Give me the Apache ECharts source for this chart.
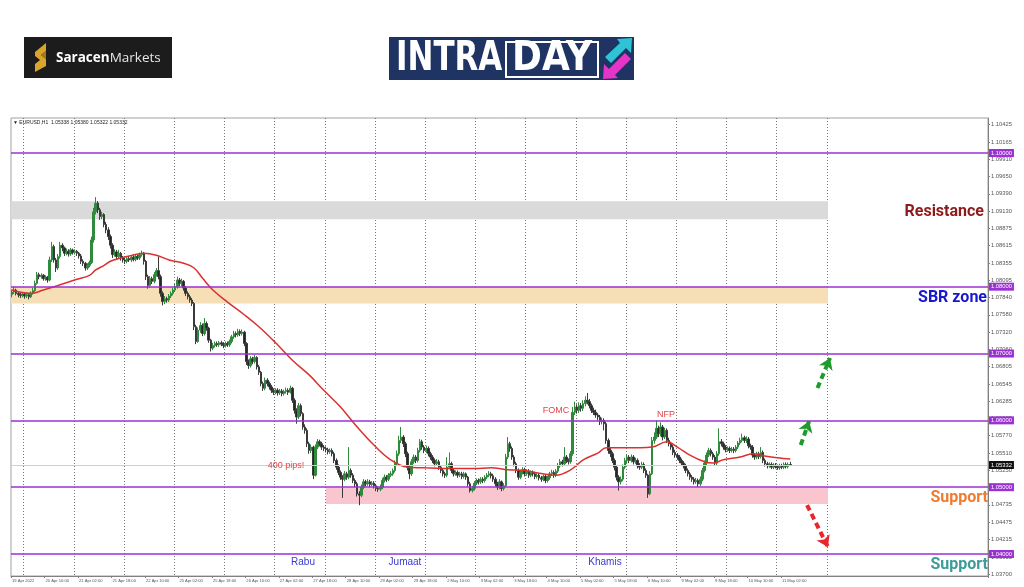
<!DOCTYPE html>
<html><head><meta charset="utf-8">
<script src="https://cdn.jsdelivr.net/npm/echarts@6/dist/echarts.min.js"></script>
<style>html,body{margin:0;padding:0;background:#fff}#c{width:1024px;height:587px}</style>
</head><body><div id="c"></div>
<script>
// ---------- DATA (EURUSD H1, bar 0 = 19 Apr 2022 18:00) ----------
const xLabels = ["19 Apr 2022","20 Apr 10:00","21 Apr 02:00","21 Apr 18:00","22 Apr 10:00","25 Apr 02:00","25 Apr 18:00","26 Apr 10:00","27 Apr 02:00","27 Apr 18:00","28 Apr 10:00","29 Apr 02:00","29 Apr 18:00","2 May 10:00","3 May 02:00","3 May 18:00","4 May 10:00","5 May 02:00","5 May 18:00","6 May 10:00","9 May 02:00","9 May 18:00","10 May 10:00","11 May 02:00"];

const opens = [
1.0788,1.0792,1.0795,1.0790,1.0788,1.0787,1.0789,1.0786,1.0788,1.0785,
1.0790,1.0794,1.0805,1.0818,1.0815,1.0817,1.0812,1.0814,1.0810,1.0840,
1.0860,1.0840,1.0828,1.0845,1.0862,1.0858,1.0850,1.0853,1.0849,1.0855,
1.0851,1.0853,1.0850,1.0846,1.0838,1.0835,1.0828,1.0832,1.0836,1.0870,
1.0912,1.0925,1.0915,1.0905,1.0908,1.0893,1.0885,1.0875,1.0862,1.0848,
1.0852,1.0845,1.0850,1.0843,1.0840,1.0838,1.0842,1.0840,1.0844,1.0841,
1.0845,1.0843,1.0848,1.0850,1.0838,1.0815,1.0802,1.0812,1.0808,1.0818,
1.0824,1.0815,1.0790,1.0778,1.0782,1.0780,1.0786,1.0790,1.0795,1.0800,
1.0810,1.0805,1.0808,1.0798,1.0790,1.0785,1.0780,1.0775,1.0740,1.0718,
1.0735,1.0742,1.0730,1.0745,1.0738,1.0720,1.0708,1.0712,1.0715,1.0713,
1.0716,1.0714,1.0712,1.0715,1.0713,1.0718,1.0725,1.0730,1.0728,1.0733,
1.0730,1.0732,1.0715,1.0688,1.0682,1.0692,1.0688,1.0694,1.0680,1.0672,
1.0655,1.0648,1.0660,1.0655,1.0650,1.0645,1.0642,1.0645,1.0641,1.0644,
1.0640,1.0643,1.0645,1.0642,1.0648,1.0630,1.0615,1.0605,1.0622,1.0610,
1.0590,1.0585,1.0565,1.0555,1.0560,1.0518,1.0560,1.0568,1.0565,1.0560,
1.0558,1.0556,1.0553,1.0555,1.0550,1.0540,1.0530,1.0522,1.0515,1.0512,
1.0520,1.0515,1.0525,1.0518,1.0510,1.0505,1.0490,1.0488,1.0500,1.0508,
1.0505,1.0508,1.0504,1.0506,1.0502,1.0498,1.0497,1.0500,1.0510,1.0515,
1.0512,1.0518,1.0520,1.0525,1.0536,1.0550,1.0570,1.0575,1.0565,1.0550,
1.0530,1.0520,1.0538,1.0545,1.0540,1.0555,1.0568,1.0560,1.0555,1.0558,
1.0550,1.0545,1.0540,1.0535,1.0538,1.0530,1.0525,1.0520,1.0518,1.0530,
1.0535,1.0525,1.0520,1.0522,1.0518,1.0520,1.0516,1.0520,1.0515,1.0505,
1.0495,1.0498,1.0506,1.0510,1.0508,1.0512,1.0510,1.0515,1.0518,1.0520,
1.0517,1.0512,1.0505,1.0500,1.0508,1.0498,1.0502,1.0545,1.0565,1.0558,
1.0545,1.0535,1.0525,1.0515,1.0522,1.0526,1.0520,1.0524,1.0518,1.0522,
1.0520,1.0516,1.0518,1.0514,1.0512,1.0516,1.0510,1.0514,1.0520,1.0522,
1.0518,1.0524,1.0532,1.0538,1.0535,1.0545,1.0540,1.0538,1.0550,1.0612,
1.0620,1.0615,1.0622,1.0618,1.0625,1.0630,1.0628,1.0622,1.0615,1.0612,
1.0608,1.0605,1.0598,1.0600,1.0595,1.0570,1.0555,1.0550,1.0540,1.0530,
1.0515,1.0508,1.0512,1.0530,1.0540,1.0545,1.0540,1.0545,1.0538,1.0540,
1.0532,1.0530,1.0534,1.0525,1.0518,1.0490,1.0520,1.0570,1.0575,1.0588,
1.0580,1.0590,1.0575,1.0585,1.0570,1.0565,1.0560,1.0552,1.0548,1.0545,
1.0540,1.0536,1.0532,1.0525,1.0520,1.0515,1.0512,1.0508,1.0510,1.0505,
1.0512,1.0525,1.0536,1.0548,1.0555,1.0550,1.0545,1.0536,1.0550,1.0568,
1.0565,1.0560,1.0556,1.0558,1.0555,1.0557,1.0555,1.0560,1.0566,1.0570,
1.0574,1.0570,1.0572,1.0562,1.0560,1.0548,1.0545,1.0550,1.0546,1.0552,
1.0540,1.0535,1.0532,1.0534,1.0530,1.0533,1.0531,1.0529,1.0532,1.0530,
1.0534,1.0531,1.05338];

const closes = [
1.0792,1.0795,1.0790,1.0788,1.0787,1.0789,1.0786,1.0788,1.0785,1.0790,
1.0794,1.0805,1.0818,1.0815,1.0817,1.0812,1.0814,1.0810,1.0840,1.0860,
1.0840,1.0828,1.0845,1.0862,1.0858,1.0850,1.0853,1.0849,1.0855,1.0851,
1.0853,1.0850,1.0846,1.0838,1.0835,1.0828,1.0832,1.0836,1.0870,1.0912,
1.0925,1.0915,1.0905,1.0908,1.0893,1.0885,1.0875,1.0862,1.0848,1.0852,
1.0845,1.0850,1.0843,1.0840,1.0838,1.0842,1.0840,1.0844,1.0841,1.0845,
1.0843,1.0848,1.0850,1.0838,1.0815,1.0802,1.0812,1.0808,1.0818,1.0824,
1.0815,1.0790,1.0778,1.0782,1.0780,1.0786,1.0790,1.0795,1.0800,1.0810,
1.0805,1.0808,1.0798,1.0790,1.0785,1.0780,1.0775,1.0740,1.0718,1.0735,
1.0742,1.0730,1.0745,1.0738,1.0720,1.0708,1.0712,1.0715,1.0713,1.0716,
1.0714,1.0712,1.0715,1.0713,1.0718,1.0725,1.0730,1.0728,1.0733,1.0730,
1.0732,1.0715,1.0688,1.0682,1.0692,1.0688,1.0694,1.0680,1.0672,1.0655,
1.0648,1.0660,1.0655,1.0650,1.0645,1.0642,1.0645,1.0641,1.0644,1.0640,
1.0643,1.0645,1.0642,1.0648,1.0630,1.0615,1.0605,1.0622,1.0610,1.0590,
1.0585,1.0565,1.0555,1.0560,1.0518,1.0560,1.0568,1.0565,1.0560,1.0558,
1.0556,1.0553,1.0555,1.0550,1.0540,1.0530,1.0522,1.0515,1.0512,1.0520,
1.0515,1.0525,1.0518,1.0510,1.0505,1.0490,1.0488,1.0500,1.0508,1.0505,
1.0508,1.0504,1.0506,1.0502,1.0498,1.0497,1.0500,1.0510,1.0515,1.0512,
1.0518,1.0520,1.0525,1.0536,1.0550,1.0570,1.0575,1.0565,1.0550,1.0530,
1.0520,1.0538,1.0545,1.0540,1.0555,1.0568,1.0560,1.0555,1.0558,1.0550,
1.0545,1.0540,1.0535,1.0538,1.0530,1.0525,1.0520,1.0518,1.0530,1.0535,
1.0525,1.0520,1.0522,1.0518,1.0520,1.0516,1.0520,1.0515,1.0505,1.0495,
1.0498,1.0506,1.0510,1.0508,1.0512,1.0510,1.0515,1.0518,1.0520,1.0517,
1.0512,1.0505,1.0500,1.0508,1.0498,1.0502,1.0545,1.0565,1.0558,1.0545,
1.0535,1.0525,1.0515,1.0522,1.0526,1.0520,1.0524,1.0518,1.0522,1.0520,
1.0516,1.0518,1.0514,1.0512,1.0516,1.0510,1.0514,1.0520,1.0522,1.0518,
1.0524,1.0532,1.0538,1.0535,1.0545,1.0540,1.0538,1.0550,1.0612,1.0620,
1.0615,1.0622,1.0618,1.0625,1.0630,1.0628,1.0622,1.0615,1.0612,1.0608,
1.0605,1.0598,1.0600,1.0595,1.0570,1.0555,1.0550,1.0540,1.0530,1.0515,
1.0508,1.0512,1.0530,1.0540,1.0545,1.0540,1.0545,1.0538,1.0540,1.0532,
1.0530,1.0534,1.0525,1.0518,1.0490,1.0520,1.0570,1.0575,1.0588,1.0580,
1.0590,1.0575,1.0585,1.0570,1.0565,1.0560,1.0552,1.0548,1.0545,1.0540,
1.0536,1.0532,1.0525,1.0520,1.0515,1.0512,1.0508,1.0510,1.0505,1.0512,
1.0525,1.0536,1.0548,1.0555,1.0550,1.0545,1.0536,1.0550,1.0568,1.0565,
1.0560,1.0556,1.0558,1.0555,1.0557,1.0555,1.0560,1.0566,1.0570,1.0574,
1.0570,1.0572,1.0562,1.0560,1.0548,1.0545,1.0550,1.0546,1.0552,1.0540,
1.0535,1.0532,1.0534,1.0530,1.0533,1.0531,1.0529,1.0532,1.0530,1.0534,
1.0531,1.05338,1.05332];

const highs = [
1.0796,1.0800,1.0797,1.0793,1.0791,1.0792,1.0791,1.0791,1.0790,1.0793,
1.0798,1.0809,1.0822,1.0821,1.0820,1.0819,1.0817,1.0816,1.0845,1.0867,
1.0863,1.0843,1.0849,1.0867,1.0865,1.0860,1.0857,1.0856,1.0858,1.0857,
1.0856,1.0855,1.0852,1.0849,1.0841,1.0837,1.0835,1.0839,1.0875,1.0918,
1.0934,1.0928,1.0918,1.0912,1.0910,1.0897,1.0889,1.0878,1.0865,1.0856,
1.0855,1.0855,1.0852,1.0846,1.0843,1.0845,1.0846,1.0847,1.0847,1.0848,
1.0848,1.0851,1.0854,1.0852,1.0840,1.0818,1.0816,1.0815,1.0822,1.0828,
1.0845,1.0818,1.0793,1.0786,1.0785,1.0789,1.0793,1.0798,1.0804,1.0815,
1.0813,1.0812,1.0810,1.0801,1.0793,1.0788,1.0783,1.0777,1.0743,1.0739,
1.0747,1.0745,1.0753,1.0748,1.0740,1.0722,1.0716,1.0718,1.0718,1.0719,
1.0719,1.0717,1.0718,1.0718,1.0721,1.0728,1.0734,1.0733,1.0737,1.0736,
1.0736,1.0734,1.0717,1.0691,1.0696,1.0695,1.0698,1.0696,1.0683,1.0674,
1.0658,1.0664,1.0663,1.0658,1.0653,1.0648,1.0648,1.0648,1.0647,1.0647,
1.0646,1.0649,1.0648,1.0652,1.0650,1.0633,1.0618,1.0626,1.0625,1.0612,
1.0594,1.0588,1.0568,1.0564,1.0562,1.0564,1.0572,1.0571,1.0568,1.0563,
1.0561,1.0559,1.0558,1.0558,1.0553,1.0543,1.0534,1.0525,1.0518,1.0524,
1.0523,1.0560,1.0528,1.0521,1.0513,1.0508,1.0494,1.0504,1.0512,1.0511,
1.0512,1.0511,1.0509,1.0509,1.0505,1.0501,1.0504,1.0514,1.0519,1.0518,
1.0521,1.0524,1.0528,1.0540,1.0555,1.0577,1.0590,1.0578,1.0568,1.0553,
1.0533,1.0542,1.0549,1.0548,1.0559,1.0572,1.0571,1.0563,1.0562,1.0561,
1.0553,1.0548,1.0543,1.0542,1.0541,1.0533,1.0528,1.0523,1.0545,1.0552,
1.0538,1.0528,1.0525,1.0525,1.0523,1.0523,1.0523,1.0522,1.0517,1.0508,
1.0502,1.0509,1.0513,1.0513,1.0515,1.0515,1.0518,1.0521,1.0524,1.0523,
1.0520,1.0515,1.0508,1.0512,1.0510,1.0506,1.0550,1.0575,1.0568,1.0561,
1.0548,1.0538,1.0528,1.0526,1.0530,1.0529,1.0527,1.0527,1.0525,1.0525,
1.0523,1.0521,1.0521,1.0517,1.0519,1.0519,1.0517,1.0523,1.0526,1.0525,
1.0527,1.0536,1.0542,1.0541,1.0560,1.0548,1.0543,1.0554,1.0620,1.0628,
1.0624,1.0627,1.0626,1.0630,1.0636,1.0641,1.0632,1.0625,1.0619,1.0616,
1.0611,1.0608,1.0604,1.0603,1.0598,1.0573,1.0559,1.0553,1.0543,1.0533,
1.0518,1.0516,1.0534,1.0544,1.0549,1.0548,1.0549,1.0548,1.0544,1.0543,
1.0536,1.0538,1.0537,1.0528,1.0520,1.0524,1.0575,1.0582,1.0600,1.0592,
1.0597,1.0593,1.0589,1.0588,1.0574,1.0568,1.0563,1.0556,1.0551,1.0548,
1.0543,1.0539,1.0535,1.0528,1.0523,1.0518,1.0515,1.0514,1.0513,1.0516,
1.0529,1.0540,1.0552,1.0559,1.0558,1.0553,1.0548,1.0554,1.0588,1.0572,
1.0568,1.0563,1.0561,1.0561,1.0560,1.0560,1.0563,1.0569,1.0574,1.0580,
1.0577,1.0576,1.0575,1.0565,1.0563,1.0551,1.0553,1.0553,1.0560,1.0555,
1.0543,1.0538,1.0537,1.0537,1.0536,1.0536,1.0534,1.0535,1.0535,1.0537,
1.0537,1.0537,1.05380];

const lows = [
1.0784,1.0789,1.0787,1.0784,1.0783,1.0784,1.0782,1.0783,1.0781,1.0783,
1.0788,1.0792,1.0803,1.0811,1.0812,1.0809,1.0809,1.0806,1.0808,1.0837,
1.0836,1.0822,1.0825,1.0842,1.0853,1.0846,1.0847,1.0845,1.0846,1.0848,
1.0848,1.0846,1.0842,1.0834,1.0831,1.0824,1.0825,1.0829,1.0834,1.0866,
1.0908,1.0910,1.0900,1.0901,1.0889,1.0880,1.0870,1.0857,1.0843,1.0845,
1.0840,1.0842,1.0839,1.0836,1.0834,1.0835,1.0837,1.0837,1.0838,1.0838,
1.0840,1.0840,1.0845,1.0833,1.0810,1.0797,1.0799,1.0804,1.0805,1.0815,
1.0811,1.0785,1.0772,1.0774,1.0776,1.0777,1.0783,1.0787,1.0792,1.0797,
1.0801,1.0801,1.0794,1.0786,1.0781,1.0776,1.0771,1.0735,1.0714,1.0716,
1.0731,1.0726,1.0727,1.0734,1.0716,1.0703,1.0705,1.0709,1.0710,1.0710,
1.0711,1.0708,1.0709,1.0710,1.0710,1.0715,1.0722,1.0724,1.0725,1.0726,
1.0727,1.0711,1.0683,1.0677,1.0679,1.0684,1.0685,1.0676,1.0668,1.0651,
1.0644,1.0645,1.0651,1.0646,1.0641,1.0638,1.0639,1.0637,1.0638,1.0636,
1.0637,1.0640,1.0638,1.0640,1.0626,1.0610,1.0595,1.0602,1.0606,1.0586,
1.0580,1.0560,1.0550,1.0551,1.0512,1.0516,1.0557,1.0561,1.0556,1.0554,
1.0552,1.0549,1.0550,1.0546,1.0536,1.0526,1.0518,1.0511,1.0484,1.0509,
1.0511,1.0512,1.0514,1.0506,1.0500,1.0486,1.0473,1.0485,1.0497,1.0501,
1.0502,1.0500,1.0501,1.0498,1.0494,1.0493,1.0494,1.0497,1.0507,1.0508,
1.0509,1.0515,1.0517,1.0522,1.0533,1.0547,1.0566,1.0560,1.0545,1.0525,
1.0512,1.0517,1.0535,1.0536,1.0537,1.0552,1.0556,1.0551,1.0551,1.0546,
1.0541,1.0536,1.0531,1.0532,1.0526,1.0521,1.0516,1.0514,1.0515,1.0527,
1.0521,1.0516,1.0517,1.0514,1.0515,1.0512,1.0513,1.0511,1.0501,1.0492,
1.0492,1.0495,1.0503,1.0504,1.0505,1.0506,1.0507,1.0512,1.0515,1.0513,
1.0508,1.0501,1.0496,1.0497,1.0494,1.0495,1.0500,1.0542,1.0553,1.0541,
1.0531,1.0521,1.0511,1.0512,1.0519,1.0516,1.0517,1.0514,1.0515,1.0516,
1.0512,1.0513,1.0510,1.0508,1.0509,1.0506,1.0507,1.0511,1.0517,1.0514,
1.0515,1.0521,1.0529,1.0531,1.0532,1.0536,1.0534,1.0535,1.0547,1.0608,
1.0610,1.0611,1.0613,1.0614,1.0621,1.0624,1.0618,1.0611,1.0608,1.0604,
1.0600,1.0593,1.0594,1.0585,1.0565,1.0550,1.0545,1.0536,1.0525,1.0510,
1.0495,1.0504,1.0509,1.0527,1.0536,1.0536,1.0537,1.0534,1.0535,1.0528,
1.0526,1.0527,1.0521,1.0514,1.0484,1.0488,1.0518,1.0565,1.0572,1.0575,
1.0576,1.0570,1.0572,1.0566,1.0561,1.0556,1.0548,1.0544,1.0541,1.0536,
1.0532,1.0528,1.0521,1.0516,1.0511,1.0508,1.0504,1.0505,1.0500,1.0502,
1.0509,1.0522,1.0533,1.0545,1.0546,1.0541,1.0532,1.0533,1.0547,1.0561,
1.0556,1.0552,1.0553,1.0551,1.0552,1.0551,1.0552,1.0557,1.0563,1.0567,
1.0566,1.0566,1.0558,1.0556,1.0544,1.0541,1.0542,1.0542,1.0543,1.0536,
1.0531,1.0528,1.0529,1.0527,1.0527,1.0528,1.0526,1.0526,1.0527,1.0527,
1.0528,1.0528,1.05322];

// moving average read at selected bars
const maBars   = [0,9,15,23,31,37,40,44,47,52,56,63,69,75,82,87,91,96,103,111,118,126,134,142,149,157,165,173,181,189,197,205,213,221,229,237,245,252,260,267,273,280,284,292,300,306,313,318,324,331,335,340,348,354,359,366,372];
const maValues = [1.0795,1.0790,1.0795,1.0803,1.0811,1.0817,1.0825,1.0832,1.0838,1.0843,1.0846,1.0850,1.0847,1.0840,1.0835,1.0828,1.0813,1.0795,1.0777,1.0758,1.0740,1.0716,1.0690,1.0668,1.0645,1.0620,1.0590,1.0563,1.0541,1.0530,1.0529,1.0528,1.0528,1.0528,1.0529,1.0526,1.0525,1.0521,1.0518,1.0526,1.0541,1.0551,1.0559,1.0559,1.0559,1.0560,1.0568,1.0560,1.0548,1.0538,1.0536,1.0541,1.0545,1.0550,1.0547,1.0544,1.0542];

const levels = [1.10, 1.08, 1.07, 1.06, 1.05, 1.04];
const yTicks = [1.03700,1.03955,1.04215,1.04475,1.04735,1.04990,1.05250,1.05510,1.05770,1.06025,1.06285,1.06545,1.06805,1.07060,1.07320,1.07580,1.07840,1.08095,1.08355,1.08615,1.08875,1.09130,1.09390,1.09650,1.09910,1.10165,1.10425];
const lastPrice = 1.05332;
const resistanceZone = [1.0901, 1.0928];
const sbrZone = [1.0775, 1.0800];
const supportZone = [1.0475, 1.0499];

// ---------- CHART ----------
const TOTAL = 467;               // bars incl. empty future space
const cats = Array.from({length: TOTAL}, (_, i) => String(i));
const candles = opens.map((o, i) => [o, closes[i], lows[i], highs[i]]);
const maLine = maBars.map((b, i) => [String(b), maValues[i]]);
const PURPLE = '#9b30d3';
const GREEN = '#1f9a2c', RED = '#e8262b';

const chart = echarts.init(document.getElementById('c'), null, {renderer: 'canvas'});

function txt(x, y, text, font, fill, align, extra) {
  return Object.assign({type: 'text', x: x, y: y, silent: true, z: 50,
    style: {text: text, font: font, fill: fill, align: align || 'center', verticalAlign: 'middle',
            textAlign: align || 'center', textVerticalAlign: 'middle'}}, extra || {});
}
function arrow(x1, y1, x2, y2, color) {
  return [{coord: [x1, y1], symbol: 'none', lineStyle: {color: color, width: 4, type: [6, 4]}},
          {coord: [x2, y2], symbol: 'arrow', itemStyle: {color: color}}];
}
const levelLabel = {show: true, position: 'end', distance: 1, formatter: (p) => Number(p.value).toFixed(5),
  color: '#fff', fontSize: 5.8, padding: [1, 2], fontFamily: 'Liberation Sans'};

const option = {
  animation: false,
  backgroundColor: '#ffffff',
  grid: {left: 11, right: 36, top: 118, bottom: 11, show: true, borderColor: '#a0a0a0', borderWidth: 1},
  xAxis: {
    type: 'category', data: cats, boundaryGap: true,
    axisLine: {show: true, lineStyle: {color: '#808080'}},
    axisTick: {show: true, length: 2, interval: (i) => i % 16 === 0 && i <= 368, lineStyle: {color: '#808080'}},
    axisLabel: {interval: (i) => i % 16 === 0 && i <= 368,
      formatter: (v, i) => xLabels[Math.round(Number(v) / 16)] || '',
      align: 'left', fontSize: 4.1, color: '#555', margin: 3, fontFamily: 'Liberation Sans'},
    splitLine: {show: true, interval: (i) => i >= 6 && i <= 390 && (i - 6) % 24 === 0,
      lineStyle: {type: [1, 2], color: '#777', width: 1}}
  },
  yAxis: {
    type: 'value', position: 'right', min: 1.03671, max: 1.10524,
    axisLine: {show: true, lineStyle: {color: '#808080'}},
    axisTick: {show: true, length: 2, customValues: yTicks, lineStyle: {color: '#808080'}},
    axisLabel: {customValues: yTicks, formatter: (v) => v.toFixed(5), fontSize: 5.8, color: '#555', margin: 3, fontFamily: 'Liberation Sans'},
    splitLine: {show: false}
  },
  series: [
    { // zones + horizontal levels
      type: 'line', data: [], z: 1, silent: true,
      markArea: {silent: true, data: [
        [{yAxis: resistanceZone[1], itemStyle: {color: '#dadada'}}, {xAxis: '390', yAxis: resistanceZone[0]}],
        [{yAxis: sbrZone[1], itemStyle: {color: '#f6dfb7'}}, {xAxis: '390', yAxis: sbrZone[0]}],
        [{xAxis: '150', yAxis: supportZone[1], itemStyle: {color: '#f9c6d0'}}, {xAxis: '390', yAxis: supportZone[0]}]
      ]},
      markLine: {silent: true, symbol: 'none', animation: false, precision: 5,
        lineStyle: {color: PURPLE, width: 1.5, type: 'solid'},
        label: Object.assign({backgroundColor: PURPLE}, levelLabel),
        data: levels.map(v => ({yAxis: v}))
      }
    },
    { // bid line
      type: 'line', data: [], z: 2, silent: true,
      markLine: {silent: true, symbol: 'none', animation: false, precision: 5,
        lineStyle: {color: '#cfcfcf', width: 1, type: 'solid'},
        label: Object.assign({backgroundColor: '#111111'}, levelLabel),
        data: [{yAxis: lastPrice}]
      }
    },
    {
      type: 'candlestick', data: candles, z: 3, barWidth: 2,
      itemStyle: {color: '#2f8a3b', color0: '#262626', borderColor: '#2f8a3b', borderColor0: '#3a3a3a', borderWidth: 1}
    },
    {
      type: 'line', data: maLine, z: 4, smooth: 0.4, showSymbol: false, silent: true,
      lineStyle: {color: '#dc3030', width: 1.5}
    },
    { // forecast arrows
      type: 'line', data: [], z: 6, silent: true,
      markLine: {silent: true, symbolSize: 11, animation: false, precision: 5, label: {show: false},
        data: [
          arrow('377', 1.05631, '381', 1.05990, GREEN),
          arrow('385', 1.06484, '391', 1.06933, GREEN),
          arrow('380', 1.04733, '390', 1.04105, RED)
        ]
      }
    }
  ],
  graphic: [
    // Saracen Markets logo
    {type: 'rect', shape: {x: 24, y: 37, width: 148, height: 41}, style: {fill: '#1c1c1c'}, silent: true},
    {type: 'polygon', shape: {points: [[35,52],[46,43],[46,51],[41,55],[46,59],[46,66],[35,72],[35,64],[40,60],[35,56]]}, style: {fill: '#d9a52b'}, silent: true},
    {type: 'polygon', shape: {points: [[41,55],[46,51],[46,59]]}, style: {fill: '#a87a16'}, silent: true},
    {type: 'text', x: 56, y: 58, silent: true, style: {text: '{b|Saracen}{n|Markets}', align: 'left', verticalAlign: 'middle', textAlign: 'left', textVerticalAlign: 'middle',
      rich: {b: {font: 'bold 13.5px "Open Sans"', fill: '#ffffff'}, n: {font: '13.5px "Open Sans"', fill: '#e6e6e6'}}}},
    // INTRADAY logo
    {type: 'rect', shape: {x: 389, y: 37, width: 245, height: 43}, style: {fill: '#1f3462'}, silent: true},
    txt(396, 60, 'INTRA', 'bold 40px "DejaVu Sans Condensed"', '#ffffff', 'left', {scaleX: 0.86}),
    {type: 'rect', shape: {x: 506, y: 42, width: 92, height: 35}, style: {fill: 'none', stroke: '#ffffff', lineWidth: 2}, silent: true},
    txt(552, 60, 'DAY', 'bold 40px "DejaVu Sans Condensed"', '#ffffff', 'center', {scaleX: 1.0}),
    {type: 'polygon', shape: {points: [[632,38],[631,53],[626,48],[611,63],[605,57],[620,43],[617,39]]}, style: {fill: '#2ec4d6'}, silent: true},
    {type: 'polygon', shape: {points: [[603,79],[604,64],[609,69],[625,53],[631,59],[615,75],[618,78]]}, style: {fill: '#e535c8'}, silent: true},
    // chart header
    txt(13, 123, '\u25BC EURUSD,H1  1.05338 1.05380 1.05322 1.05332', '5px "Liberation Sans"', '#222', 'left'),
    // zone labels
    txt(984, 212, 'Resistance', 'bold 16px Roboto', '#8e1a1a', 'right'),
    txt(987, 298, 'SBR zone', 'bold 16px Roboto', '#1717cf', 'right'),
    txt(988, 498, 'Support', 'bold 16px Roboto', '#f07b33', 'right'),
    txt(988, 565, 'Support', 'bold 16px Roboto', '#3b9c99', 'right'),
    // event labels
    txt(286, 466, '400 pips!', '9px "Liberation Sans"', '#e04646'),
    txt(556, 411, 'FOMC', '9px "Liberation Sans"', '#e04646'),
    txt(666, 415, 'NFP', '9px "Liberation Sans"', '#e04646'),
    txt(303, 562, 'Rabu', '10px "Liberation Sans"', '#3a3ad0'),
    txt(405, 562, 'Jumaat', '10px "Liberation Sans"', '#3a3ad0'),
    txt(605, 562, 'Khamis', '10px "Liberation Sans"', '#3a3ad0')
  ]
};
chart.setOption(option);
</script></body></html>
